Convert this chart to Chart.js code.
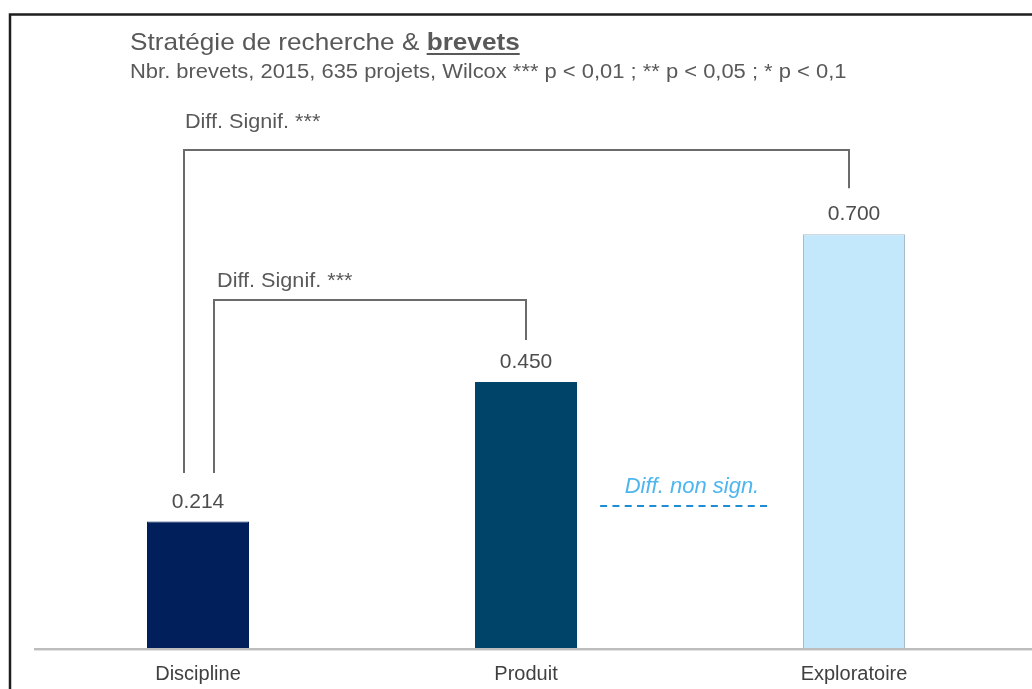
<!DOCTYPE html>
<html>
<head>
<meta charset="utf-8">
<script src="https://cdn.jsdelivr.net/npm/chart.js@4.4.1/dist/chart.umd.min.js"></script>
<style>
  html, body { margin: 0; padding: 0; background: #ffffff; }
  #wrap { position: relative; width: 1032px; height: 689px; }
  canvas { display: block; }
</style>
</head>
<body>
<div id="wrap"><canvas id="chart" width="1032" height="689"></canvas></div>
<script>
// Strategy categories and mean number of patents per project
const categories = ['Discipline', 'Produit', 'Exploratoire'];
const patentMeans = [0.214, 0.450, 0.700];
const barColors = ['#001f5b', '#01446a', '#c4e8fb'];
const barBorders = ['#001f5b', '#01446a', '#a9bccb'];

const titleMain = 'Stratégie de recherche & ';
const titleBold = 'brevets';
const subtitle = 'Nbr. brevets, 2015, 635 projets, Wilcox *** p < 0,01 ; ** p < 0,05 ; * p < 0,1';

// Significance brackets: from category, to category, level and leg ends (value units)
const bracketFrom = [0, 0];
const bracketTo = [2, 1];
const bracketFromShift = [-0.043, 0.049];
const bracketToShift = [-0.015, 0];
const bracketLevel = [0.843, 0.589];
const bracketLeftEnd = [0.296, 0.296];
const bracketRightEnd = [0.778, 0.521];
const bracketLabels = ['Diff. Signif. ***', 'Diff. Signif. ***'];
const bracketLabelShift = [-0.040, 0.058];
const bracketLabelLevel = [0.880, 0.611];

// Non-significant difference marker between Produit and Exploratoire
const nsLabel = 'Diff. non sign.';
const nsStart = 1.226, nsEnd = 1.744, nsLevel = 0.240;
const nsTextX = 1.506, nsTextLevel = 0.262;

const FONT = '"Liberation Sans", Arial, sans-serif';

// draws text stretched horizontally by sx, anchored at its left edge (or centre)
function stretchedText(ctx, text, x, y, sx, align) {
  ctx.save();
  ctx.textAlign = 'left';
  const w = ctx.measureText(text).width * sx;
  const left = align === 'center' ? x - w / 2 : x;
  ctx.translate(left, y);
  ctx.scale(sx, 1);
  ctx.fillText(text, 0, 0);
  ctx.restore();
  return w;
}

const overlay = {
  id: 'overlay',
  afterDatasetsDraw(chart) {
    const { ctx } = chart;
    const xs = chart.scales.x, ys = chart.scales.y;
    const step = xs.getPixelForValue(1) - xs.getPixelForValue(0);
    ctx.save();
    ctx.textBaseline = 'alphabetic';

    // value labels above bars
    const meta = chart.getDatasetMeta(0);
    ctx.font = '21px ' + FONT;
    ctx.fillStyle = '#4d4d4d';
    meta.data.forEach((bar, i) => {
      stretchedText(ctx, patentMeans[i].toFixed(3), bar.x, bar.y - 14, 1.0, 'center');
    });

    // brackets
    ctx.strokeStyle = '#6b6b6b';
    ctx.lineWidth = 2;
    ctx.fillStyle = '#595959';
    ctx.font = '21px ' + FONT;
    for (let i = 0; i < bracketFrom.length; i++) {
      const x1 = Math.round(xs.getPixelForValue(bracketFrom[i]) + bracketFromShift[i] * step);
      const x2 = Math.round(xs.getPixelForValue(bracketTo[i]) + bracketToShift[i] * step);
      const yTop = Math.round(ys.getPixelForValue(bracketLevel[i]));
      ctx.beginPath();
      ctx.moveTo(x1, ys.getPixelForValue(bracketLeftEnd[i]));
      ctx.lineTo(x1, yTop);
      ctx.lineTo(x2, yTop);
      ctx.lineTo(x2, ys.getPixelForValue(bracketRightEnd[i]));
      ctx.stroke();
      const lx = xs.getPixelForValue(bracketFrom[i]) + bracketLabelShift[i] * step;
      stretchedText(ctx, bracketLabels[i], lx, ys.getPixelForValue(bracketLabelLevel[i]), 1.03, 'left');
    }

    // non-significant marker
    const nx1 = xs.getPixelForValue(nsStart), nx2 = xs.getPixelForValue(nsEnd);
    const ny = Math.round(ys.getPixelForValue(nsLevel));
    ctx.strokeStyle = '#1e8dd4';
    ctx.lineWidth = 2;
    ctx.setLineDash([7, 5.3]);
    ctx.beginPath();
    ctx.moveTo(nx1, ny);
    ctx.lineTo(nx2, ny);
    ctx.stroke();
    ctx.setLineDash([]);
    ctx.font = 'italic 22px ' + FONT;
    ctx.fillStyle = '#4db6ee';
    stretchedText(ctx, nsLabel, xs.getPixelForValue(nsTextX), ys.getPixelForValue(nsTextLevel), 1.0, 'center');

    // baseline
    const by = ys.getPixelForValue(0);
    ctx.strokeStyle = '#bdbdbd';
    ctx.lineWidth = 2;
    ctx.beginPath();
    ctx.moveTo(34, by + 1);
    ctx.lineTo(chart.width, by + 1);
    ctx.stroke();
    ctx.strokeStyle = '#e2e2e2';
    ctx.lineWidth = 1;
    ctx.beginPath();
    ctx.moveTo(34, by + 2.5);
    ctx.lineTo(chart.width, by + 2.5);
    ctx.stroke();

    // titles
    ctx.fillStyle = '#595959';
    ctx.font = '24px ' + FONT;
    const w = stretchedText(ctx, titleMain, 130, 50, 1.09, 'left');
    ctx.font = 'bold 24px ' + FONT;
    const bw = stretchedText(ctx, titleBold, 130 + w, 50, 1.09, 'left');
    ctx.fillRect(130 + w, 53, bw, 2);
    ctx.font = '19.5px ' + FONT;
    stretchedText(ctx, subtitle, 130, 78, 1.125, 'left');

    // frame
    ctx.strokeStyle = '#1e1e1e';
    ctx.lineWidth = 2.5;
    ctx.beginPath();
    ctx.moveTo(10, chart.height);
    ctx.lineTo(10, 14.5);
    ctx.lineTo(chart.width, 14.5);
    ctx.stroke();

    ctx.restore();
  }
};

new Chart(document.getElementById('chart'), {
  type: 'bar',
  data: {
    labels: categories,
    datasets: [{
      data: patentMeans,
      backgroundColor: barColors,
      borderColor: barBorders,
      borderWidth: 1,
      categoryPercentage: 1,
      barPercentage: 0.311
    }]
  },
  options: {
    responsive: false,
    animation: false,
    layout: { padding: { left: 34, right: 14, top: 57, bottom: 3 } },
    plugins: { legend: { display: false }, tooltip: { enabled: false }, title: { display: false } },
    scales: {
      x: {
        grid: { display: false, drawTicks: false },
        border: { display: false },
        ticks: { color: '#404040', font: { family: FONT, size: 20 }, padding: 14 },
        afterFit(scale) { scale.height = 38; }
      },
      y: {
        display: false,
        min: 0,
        max: 1
      }
    }
  },
  plugins: [overlay]
});
</script>
</body>
</html>
